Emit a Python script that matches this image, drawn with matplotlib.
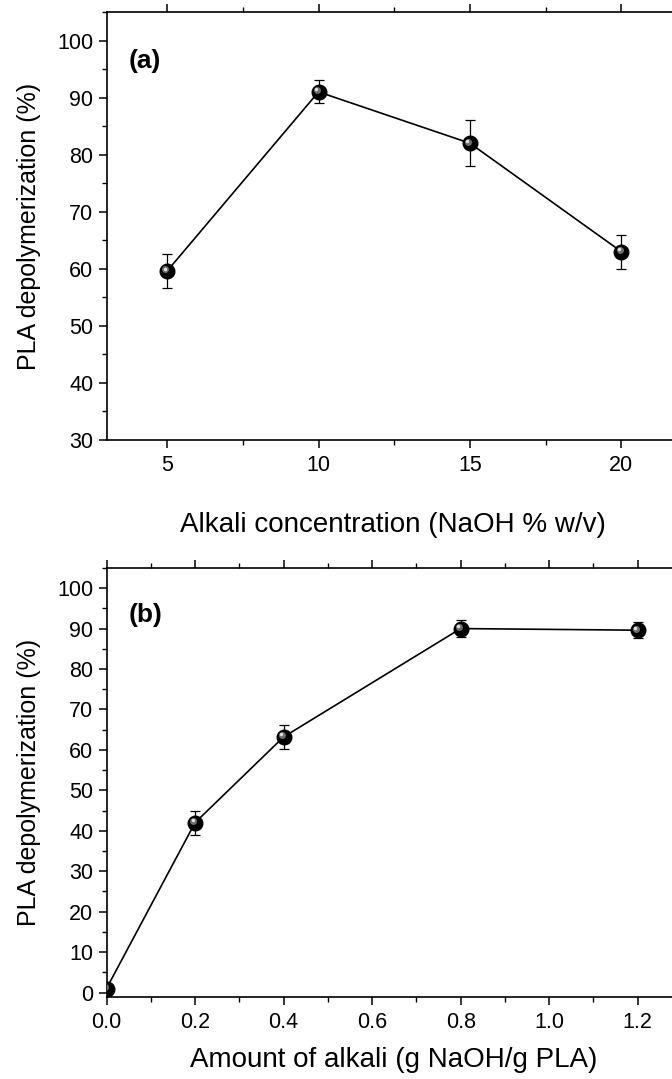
import matplotlib
matplotlib.use('Agg')
import matplotlib.pyplot as plt
from matplotlib.ticker import MultipleLocator
from matplotlib.transforms import ScaledTranslation

plt.rcParams['font.family'] = ['Liberation Sans', 'DejaVu Sans']

# (a) alkali concentration
conc = [5, 10, 15, 20]
conc_depol = [59.6, 91.0, 82.0, 63.0]
conc_err = [3.0, 2.0, 4.0, 3.0]

# (b) amount of alkali
amount = [0.0, 0.2, 0.4, 0.8, 1.2]
amount_depol = [1.0, 42.0, 63.2, 90.0, 89.6]
amount_err = [0.0, 3.0, 3.0, 2.0, 2.0]

fig = plt.figure(figsize=(6.72, 10.79), dpi=100)


def sphere_plot(ax, x, y, err):
    ax.errorbar(x, y, yerr=err, color='black', lw=1.2, elinewidth=0.9,
                capsize=3.5, capthick=0.9, zorder=2)
    ax.plot(x, y, 'o', ms=10.5, mfc='black', mec='black', zorder=3)
    # shiny highlight
    off1 = ax.transData + ScaledTranslation(-1.2 / 72, 1.2 / 72, fig.dpi_scale_trans)
    off2 = ax.transData + ScaledTranslation(-1.8 / 72, 1.8 / 72, fig.dpi_scale_trans)
    ax.plot(x, y, 'o', ms=5, mfc='#6e6e6e', mec='none', transform=off1, zorder=4)
    ax.plot(x, y, 'o', ms=2.5, mfc='#e0e0e0', mec='none', transform=off2, zorder=5)


def style(ax):
    for s in ax.spines.values():
        s.set_linewidth(1.2)
    ax.tick_params(which='major', direction='out', length=6, width=1.1,
                   labelsize=15.5, top=True, right=False)
    ax.tick_params(which='minor', direction='out', length=3.5, width=1.0,
                   top=True, right=False)
    ax.tick_params(axis='x', which='both', pad=5)


left = 106.5 / 672
right = 682 / 672

# panel a
ax1 = fig.add_axes([left, 1 - 440 / 1079, right - left, (440 - 12) / 1079])
sphere_plot(ax1, conc, conc_depol, conc_err)
ax1.set_xlim(3, 22)
ax1.set_ylim(30, 105)
ax1.xaxis.set_major_locator(MultipleLocator(5))
ax1.xaxis.set_minor_locator(MultipleLocator(2.5))
ax1.yaxis.set_major_locator(MultipleLocator(10))
ax1.yaxis.set_minor_locator(MultipleLocator(5))
style(ax1)
ax1.set_ylabel('PLA depolymerization (%)', fontsize=18, labelpad=12)
fig.text(0.585, 1 - 525 / 1079, 'Alkali concentration (NaOH % w/v)',
         fontsize=20, ha='center', va='center')
ax1.text(0.039, 0.885, '(a)', transform=ax1.transAxes, fontsize=19,
         fontweight='bold', va='center')

# panel b
ax2 = fig.add_axes([left, 1 - 997 / 1079, right - left, (997 - 567.5) / 1079])
sphere_plot(ax2, amount, amount_depol, amount_err)
ax2.set_xlim(0, 1.3)
ax2.set_ylim(-1.1, 105.1)
ax2.xaxis.set_major_locator(MultipleLocator(0.2))
ax2.xaxis.set_minor_locator(MultipleLocator(0.1))
ax2.yaxis.set_major_locator(MultipleLocator(10))
ax2.yaxis.set_minor_locator(MultipleLocator(5))
ax2.xaxis.set_major_formatter(plt.FormatStrFormatter('%.1f'))
style(ax2)
ax2.set_ylabel('PLA depolymerization (%)', fontsize=18, labelpad=12)
fig.text(0.586, 1 - 1060 / 1079, 'Amount of alkali (g NaOH/g PLA)',
         fontsize=20, ha='center', va='center')
ax2.text(0.038, 0.889, '(b)', transform=ax2.transAxes, fontsize=19,
         fontweight='bold', va='center')

fig.savefig('out.png', dpi=100)
